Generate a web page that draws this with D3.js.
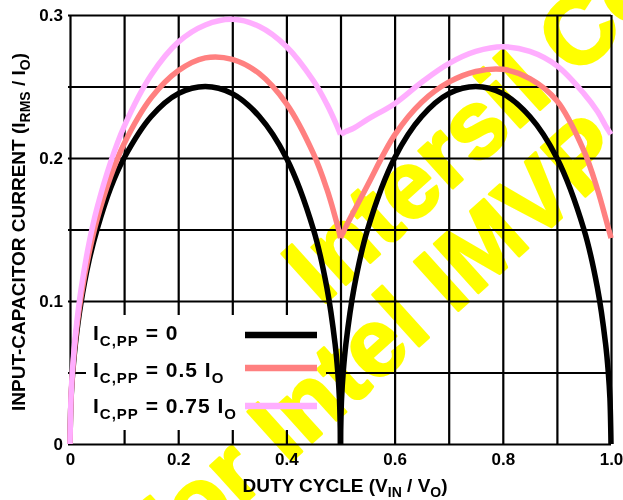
<!DOCTYPE html>
<html>
<head>
<meta charset="utf-8">
<script src="https://cdn.jsdelivr.net/npm/d3@7"></script>
<style>
  html, body { margin: 0; padding: 0; background: #fff; }
  svg { display: block; font-family: "Liberation Sans", Arial, Helvetica, sans-serif; font-weight: bold; }
</style>
</head>
<body>
<svg id="chart" width="623" height="500"></svg>
<script>
// Duty cycle samples (denser near the zero-current points at 0, 0.5 and 1)
const duty = [0, 0.002, 0.005, 0.01, 0.02, 0.035, 0.05, 0.075, 0.1, 0.15, 0.2, 0.25, 0.3, 0.35, 0.4, 0.45, 0.475, 0.49, 0.495, 0.498, 0.5,
              0.502, 0.505, 0.51, 0.525, 0.55, 0.6, 0.65, 0.7, 0.75, 0.8, 0.85, 0.9, 0.95, 0.975, 0.99, 0.995, 0.998, 1.0];

// Normalized input-capacitor RMS current, I_RMS / I_O
const rippleZero = [0, 0.032, 0.050, 0.070, 0.098, 0.128, 0.150, 0.179, 0.200, 0.229, 0.245, 0.250, 0.245, 0.229, 0.200, 0.150, 0.109, 0.070, 0.050, 0.032, 0,
                    0.032, 0.050, 0.070, 0.109, 0.150, 0.200, 0.229, 0.245, 0.250, 0.245, 0.229, 0.200, 0.150, 0.109, 0.070, 0.050, 0.032, 0];
const rippleHalf = [0, 0.033, 0.052, 0.073, 0.102, 0.133, 0.157, 0.187, 0.210, 0.242, 0.261, 0.270, 0.269, 0.259, 0.238, 0.203, 0.178, 0.159, 0.152, 0.1475, 0.144,
                    0.146, 0.148, 0.152, 0.163, 0.181, 0.216, 0.239, 0.253, 0.2605, 0.262, 0.2555, 0.240, 0.205, 0.178, 0.158, 0.151, 0.147, 0.144];
const rippleThreeQuarter = [0, 0.034, 0.054, 0.076, 0.107, 0.140, 0.165, 0.197, 0.222, 0.258, 0.281, 0.293, 0.297, 0.292, 0.278, 0.254, 0.2375, 0.2255, 0.221, 0.2184, 0.2165,
                    0.217, 0.2175, 0.2185, 0.221, 0.227, 0.238, 0.253, 0.266, 0.2745, 0.2778, 0.2745, 0.2645, 0.245, 0.2325, 0.2225, 0.2195, 0.2177, 0.2165];

const legendValues = ["0", "0.5", "0.75"];
const seriesColors = ["#000000", "#ff8080", "#ffaeff"];

const xGrid = [0, 0.1, 0.2, 0.3, 0.4, 0.5, 0.6, 0.7, 0.8, 0.9, 1.0];
const xTickLabels = { "0": "0", "0.2": "0.2", "0.4": "0.4", "0.6": "0.6", "0.8": "0.8", "1": "1.0" };
const yGrid = [0, 0.05, 0.1, 0.15, 0.2, 0.25, 0.3];
const yTickLabels = { "0": "0", "0.1": "0.1", "0.2": "0.2", "0.3": "0.3" };

const svg = d3.select("#chart");
const plotLeft = 70, plotRight = 611, plotTop = 15, plotBottom = 444;

const x = d3.scaleLinear().domain([0, 1]).range([plotLeft, plotRight]);
const y = d3.scaleLinear().domain([0, 0.3]).range([plotBottom, plotTop]);

svg.append("rect").attr("width", 623).attr("height", 500).attr("fill", "#fff");

// Vertical grid lines + x tick labels
const xAxis = svg.append("g")
  .attr("transform", `translate(0,${plotBottom})`)
  .call(d3.axisBottom(x).tickValues(xGrid).tickSize(-(plotBottom - plotTop)).tickPadding(9)
        .tickFormat(d => xTickLabels[String(+d.toFixed(2))] || ""));

// Horizontal grid lines + y tick labels (lines poke slightly left of the frame)
const yAxis = svg.append("g")
  .attr("transform", `translate(${plotLeft - 2},0)`)
  .call(d3.axisLeft(y).tickValues(yGrid).tickSize(-(plotRight - plotLeft + 2)).tickPadding(5)
        .tickFormat(d => yTickLabels[String(+d.toFixed(2))] || ""));

[xAxis, yAxis].forEach(g => {
  g.select(".domain").remove();
  g.selectAll(".tick line").attr("stroke", "#000").attr("stroke-width", 2.2);
  g.selectAll(".tick text").attr("fill", "#000").attr("font-size", 17)
    .attr("font-family", "'Liberation Sans', Arial, sans-serif").attr("font-weight", "bold");
});

// Legend background hides the grid behind it
svg.append("rect").attr("x", 86).attr("y", 315).attr("width", 240).attr("height", 115).attr("fill", "#fff");

// Watermark (multiplied so the grid stays black where it crosses)
const wm = svg.append("g").style("mix-blend-mode", "multiply")
  .attr("fill", "#ffff00").attr("stroke", "#ffff00").attr("stroke-width", 2.5).attr("stroke-linejoin", "round")
  .attr("font-size", 96).attr("font-weight", "bold");
wm.append("text").attr("transform", "translate(321,307) rotate(-42)").text("Intersil Confidential");
wm.append("text").attr("transform", "translate(628,158) rotate(-42)").attr("text-anchor", "end").text("for Intel IMVP");

// Curves: each hump is drawn separately so the cusp at D = 0.5 stays sharp
const line = d3.line().x(d => x(d[0])).y(d => y(d[1])).curve(d3.curveCatmullRom.alpha(0.5));
const series = [rippleZero, rippleHalf, rippleThreeQuarter];
series.forEach((vals, i) => {
  const pts = duty.map((d, j) => [d, vals[j]]);
  const humps = [pts.filter(p => p[0] <= 0.5), pts.filter(p => p[0] >= 0.5)];
  humps.forEach(h => {
    svg.append("path").attr("d", line(h)).attr("fill", "none")
      .attr("stroke", seriesColors[i]).attr("stroke-width", 5.5).attr("stroke-linejoin", "round");
  });
});

// Legend entries
const rowBase = [340, 377, 413];
const rowLine = [335, 368, 406];
legendValues.forEach((v, i) => {
  const t = svg.append("text").attr("x", 93).attr("y", rowBase[i]).attr("font-size", 21)
    .attr("letter-spacing", 1);
  t.append("tspan").text("I");
  t.append("tspan").attr("font-size", 15).attr("dy", 6).text("C,PP");
  t.append("tspan").attr("dy", -6).text(" = " + v);
  if (v !== "0") {
    t.append("tspan").text(" I");
    t.append("tspan").attr("font-size", 15).attr("dy", 6).text("O");
  }
  svg.append("line").attr("x1", 245).attr("x2", 317).attr("y1", rowLine[i]).attr("y2", rowLine[i])
    .attr("stroke", seriesColors[i]).attr("stroke-width", 6.5);
});

// Axis titles
const xt = svg.append("text").attr("x", 345).attr("y", 492).attr("text-anchor", "middle").attr("font-size", 19);
xt.append("tspan").text("DUTY CYCLE (V");
xt.append("tspan").attr("font-size", 14).attr("dy", 5).text("IN");
xt.append("tspan").attr("dy", -5).text(" / V");
xt.append("tspan").attr("font-size", 14).attr("dy", 5).text("O");
xt.append("tspan").attr("dy", -5).text(")");

const yt = svg.append("text").attr("transform", "translate(25,232) rotate(-90)")
  .attr("text-anchor", "middle").attr("font-size", 19);
yt.append("tspan").text("INPUT-CAPACITOR CURRENT (I");
yt.append("tspan").attr("font-size", 14).attr("dy", 5).text("RMS");
yt.append("tspan").attr("dy", -5).text(" / I");
yt.append("tspan").attr("font-size", 14).attr("dy", 5).text("O");
yt.append("tspan").attr("dy", -5).text(")");
</script>
</body>
</html>
